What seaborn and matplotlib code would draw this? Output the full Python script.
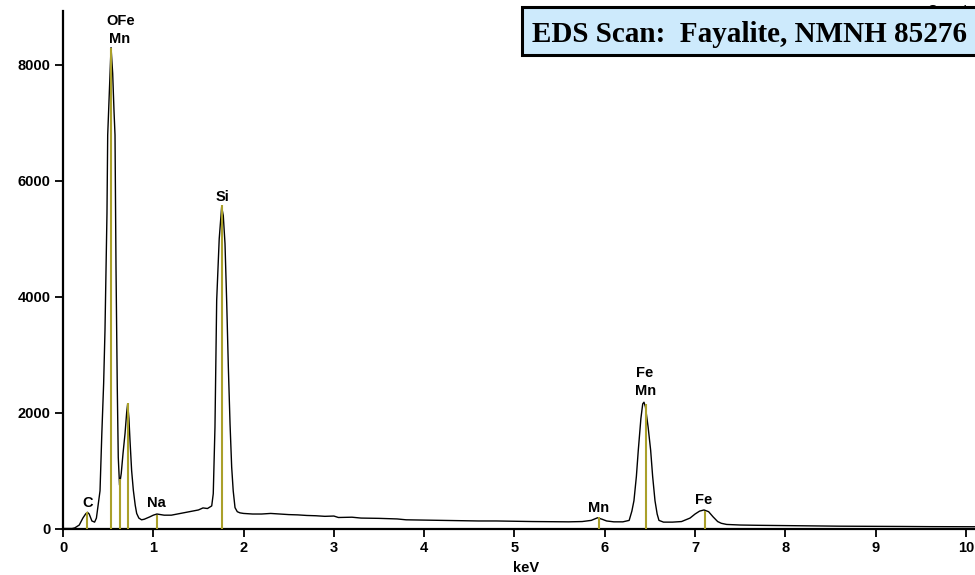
import matplotlib
matplotlib.use("Agg")
import matplotlib.pyplot as plt
from matplotlib.patches import Rectangle
import seaborn as sns
import pandas as pd

# ---- spectrum (keV, counts) ----
energy_kev = [0.00, 0.10, 0.13, 0.18, 0.22, 0.25, 0.27, 0.29, 0.32, 0.35, 0.37, 0.39,
              0.41, 0.43, 0.45, 0.465, 0.487, 0.495, 0.515, 0.532, 0.55, 0.565, 0.576,
              0.587, 0.601, 0.612, 0.626, 0.645, 0.665, 0.687, 0.705, 0.716, 0.73,
              0.742, 0.76, 0.779, 0.80, 0.816, 0.84, 0.87, 0.90, 0.93, 0.96, 1.00,
              1.04, 1.08, 1.12, 1.20, 1.30, 1.40, 1.50, 1.55, 1.60, 1.647, 1.664,
              1.683, 1.702, 1.73, 1.757, 1.775, 1.794, 1.813, 1.831, 1.85, 1.868,
              1.885, 1.905, 1.93, 1.96, 2.00, 2.10, 2.20, 2.30, 2.40, 2.50, 2.60,
              2.70, 2.80, 2.90, 3.00, 3.05, 3.20, 3.30, 3.50, 3.70, 3.80, 4.00,
              4.20, 4.40, 4.60, 4.80, 5.00, 5.20, 5.40, 5.60, 5.75, 5.85, 5.92,
              5.97, 6.02, 6.10, 6.20, 6.27, 6.30, 6.323, 6.35, 6.371, 6.40, 6.42,
              6.434, 6.45, 6.48, 6.508, 6.53, 6.556, 6.58, 6.60, 6.65, 6.75, 6.85,
              6.944, 7.00, 7.05, 7.099, 7.15, 7.20, 7.25, 7.29, 7.35, 7.50, 7.70,
              8.00, 8.30, 8.60, 9.00, 9.30, 9.60, 10.00, 10.10]
counts = [0, 0, 10, 60, 180, 250, 280, 250, 130, 110, 180, 420,
          650, 1640, 2500, 3420, 5440, 6790, 7600, 8300, 7860, 7200, 6790,
          4500, 2440, 1230, 750, 950, 1300, 1640, 2000, 2150, 1900,
          1520, 1000, 660, 400, 260, 180, 150, 160, 180, 200, 230,
          250, 240, 230, 230, 260, 290, 320, 355, 345, 390, 600,
          1750, 3940, 5000, 5550, 5400, 4920, 3900, 2790, 1800, 1060,
          650, 360, 290, 270, 260, 250, 250, 260, 250, 240, 235,
          225, 220, 210, 215, 190, 195, 180, 175, 165, 150, 145,
          140, 135, 130, 130, 125, 120, 118, 115, 120, 140, 185,
          160, 130, 115, 115, 140, 300, 480, 900, 1350, 1900, 2150,
          2180, 2100, 1750, 1350, 900, 480, 250, 140, 110, 110, 120,
          180, 250, 300, 320, 290, 200, 120, 90, 70, 60, 55,
          50, 45, 40, 38, 35, 32, 30, 30]

# ---- element marker lines ----
line_kev = [0.27, 0.527, 0.635, 0.72, 1.04, 1.757, 5.94, 6.456, 7.11]
line_height = [280, 8300, 860, 2160, 240, 5580, 190, 2150, 310]

# ---- peak labels ----
label_text = ["OFe", "Mn", "C", "Na", "Si", "Mn", "Fe", "Mn", "Fe"]
label_kev = [0.64, 0.63, 0.277, 1.033, 1.766, 5.935, 6.445, 6.45, 7.10]
label_counts = [8760, 8450, 440, 440, 5720, 350, 2680, 2365, 490]

x_ticks = [0, 1, 2, 3, 4, 5, 6, 7, 8, 9, 10]
y_ticks = [0, 2000, 4000, 6000, 8000]
title_text = "EDS Scan:  Fayalite, NMNH 85276"

sns.set_style("white")
plt.rcParams["font.family"] = ["Liberation Sans", "DejaVu Sans"]
plt.rcParams["text.color"] = "black"
plt.rcParams["axes.labelcolor"] = "black"

W, H = 975, 575
fig = plt.figure(figsize=(9.75, 5.75), dpi=100)
ax = fig.add_axes([63 / W, (H - 528.5) / H, (975 - 63) / W, (528.5 - 11) / H])

df = pd.DataFrame({"keV": energy_kev, "counts": counts})
ax.vlines(line_kev, 0, line_height, colors="#aaa02a", lw=1.5, zorder=3)
sns.lineplot(data=df, x="keV", y="counts", ax=ax, color="black", lw=1.0,
             estimator=None, sort=False, zorder=2)

for t, xk, yc in zip(label_text, label_kev, label_counts):
    ax.text(xk, yc, t, ha="center", va="center", fontsize=10.5,
            fontweight="bold", color="black")

ax.set_xlim(0, 10.1)
ax.set_ylim(0, 8932)
ax.set_xticks(x_ticks)
ax.set_yticks(y_ticks)
ax.set_xticklabels([str(v) for v in x_ticks], fontsize=10.5, fontweight="bold")
ax.set_yticklabels([str(v) for v in y_ticks], fontsize=10.5, fontweight="bold")
ax.tick_params(axis="both", direction="out", length=5.5, width=1.3,
               color="black", labelcolor="black", pad=3.4, left=True, bottom=True)
ax.set_xlabel("keV", fontsize=10.5, fontweight="bold", labelpad=3, color="black")
ax.xaxis.set_label_coords((526 - 63) / (975 - 63), -0.062)
ax.set_ylabel("")
for s in ["top", "right"]:
    ax.spines[s].set_visible(False)
for s in ["left", "bottom"]:
    ax.spines[s].set_color("black")
    ax.spines[s].set_linewidth(1.6)

# partially hidden axis caption behind the title box
fig.text(975 / W, 1 - 11 / H, "x Counts", ha="right", va="center",
         fontsize=10, fontweight="bold", color="black", zorder=1)

# title box
x0, y0, x1, y1 = 521.7 / W, (H - 55) / H, 1.01, (H - 7.3) / H
box = Rectangle((x0, y0), x1 - x0, y1 - y0, transform=fig.transFigure,
                facecolor="#cdeafc", edgecolor="black", lw=2.2, zorder=5)
fig.patches.append(box)
fig.text(532 / W, 1 - 34.5 / H, title_text, ha="left", va="center",
         fontsize=21, fontweight="bold", color="black",
         family=["Liberation Serif", "DejaVu Serif"], zorder=6)

fig.savefig("out.png", dpi=100)
